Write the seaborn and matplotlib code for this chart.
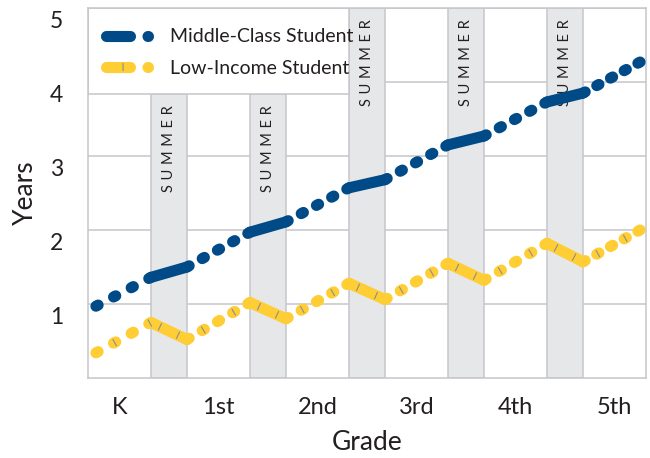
import numpy as np
import pandas as pd
import matplotlib
matplotlib.use("Agg")
import matplotlib.pyplot as plt
import seaborn as sns
from matplotlib.lines import Line2D
from matplotlib.patches import Rectangle
from matplotlib.legend_handler import HandlerTuple
from matplotlib.transforms import ScaledTranslation

# ---------------- data ----------------
grades = ["K", "1st", "2nd", "3rd", "4th", "5th"]
series_names = ["Middle-Class Student", "Low-Income Student"]
middle_start = [0.97, 1.50, 2.11, 2.68, 3.27, 3.85]   # value at start of school year
middle_end = [1.36, 1.97, 2.57, 3.15, 3.73, 4.27]     # value at end of school year
low_start = [0.34, 0.52, 0.80, 1.06, 1.32, 1.57]
low_end = [0.75, 1.02, 1.28, 1.55, 1.82, 2.00]
y_ticks = [1, 2, 3, 4, 5]
summer_label = " \u200a".join("SUMMER")
x_label = "Grade"
y_label = "Years"

# ---------------- style ----------------
sns.set_theme(style="white")
plt.rcParams["font.family"] = ["Lato", "DejaVu Sans"]
plt.rcParams["lines.scale_dashes"] = False
TXT = "#231f20"
BLUE = "#004b87"
YELLOW = "#ffcd34"
SLASH = "#8a8d96"
BAND = "#e6e7e9"
GRID = "#c6c6cb"
LW = 8.0
DPI = 100
PT = 72.0 / DPI  # points per pixel

SCHOOL = 0.636          # school-year share of a grade cycle
X_FIRST = 0.08
X_LAST_INSET = 0.06
LEGEND_BOTTOM = 3.84
LEGEND_RIGHT = 2 + SCHOOL

rows = []
for name, starts, ends in [(series_names[0], middle_start, middle_end),
                           (series_names[1], low_start, low_end)]:
    for i in range(len(grades)):
        xs = i + (X_FIRST if i == 0 else 0.0)
        xe = i + SCHOOL - (X_LAST_INSET if i == len(grades) - 1 else 0.0)
        rows.append(dict(student=name, phase="school", seg=i, x=xs, y=starts[i]))
        rows.append(dict(student=name, phase="school", seg=i, x=xe, y=ends[i]))
        if i < len(grades) - 1:
            rows.append(dict(student=name, phase="summer", seg=i, x=i + SCHOOL, y=ends[i]))
            rows.append(dict(student=name, phase="summer", seg=i, x=i + 1, y=starts[i + 1]))
df = pd.DataFrame(rows)

fig = plt.figure(figsize=(6.5, 4.58), dpi=DPI)
ax = fig.add_axes([88 / 650, 80 / 458, 558 / 650, 370 / 458])
ax.set_xlim(0, len(grades) - 1 + SCHOOL)
ax.set_ylim(0, 5)

# grid / spines
ax.set_axisbelow(True)
ax.set_yticks(y_ticks)
ax.grid(axis="y", color=GRID, lw=1.1)
ax.grid(axis="x", visible=False)
for s in ax.spines.values():
    s.set_color(GRID)
    s.set_linewidth(1.1)

# summer bands
for i in range(len(grades) - 1):
    x0 = i + SCHOOL
    w = 1 - SCHOOL
    top = LEGEND_BOTTOM if x0 < LEGEND_RIGHT - 1e-6 else 5
    ax.add_patch(Rectangle((x0, 0), w, top, facecolor=BAND, edgecolor=GRID,
                           lw=1.1, zorder=1))
    ax.annotate(summer_label, xy=(x0 + w / 2, top), xytext=(0, -8),
                textcoords="offset points", rotation=90, ha="center", va="top",
                fontsize=10.5, color=TXT, zorder=2)

# legend box
ax.add_patch(Rectangle((0, LEGEND_BOTTOM), LEGEND_RIGHT, 5 - LEGEND_BOTTOM,
                       facecolor="white", edgecolor=GRID, lw=1.1, zorder=1.5))

# lines
colors = {series_names[0]: BLUE, series_names[1]: YELLOW}
school_lines, summer_lines = {}, {}
for name in series_names:
    sub = df[(df.student == name) & (df.phase == "school")]
    n0 = len(ax.lines)
    sns.lineplot(data=sub, x="x", y="y", units="seg", estimator=None, sort=False,
                 color=colors[name], lw=LW, ax=ax, linestyle=(0, (1, 10)),
                 dash_capstyle="round", solid_capstyle="round", zorder=3)
    school_lines[name] = ax.lines[n0:]
    sub = df[(df.student == name) & (df.phase == "summer")]
    n0 = len(ax.lines)
    sns.lineplot(data=sub, x="x", y="y", units="seg", estimator=None, sort=False,
                 color=colors[name], lw=LW, ax=ax, solid_capstyle="round", zorder=3.5)
    summer_lines[name] = ax.lines[n0:]

# slashes on the low-income line
low = series_names[1]
sub = df[(df.student == low) & (df.phase == "school")]
n0 = len(ax.lines)
sns.lineplot(data=sub, x="x", y="y", units="seg", estimator=None, sort=False,
             color=SLASH, lw=LW * 0.72, ax=ax, linestyle=(0, (1, 10)),
             dash_capstyle="butt", zorder=4)
slash_school = ax.lines[n0:]
sub = df[(df.student == low) & (df.phase == "summer")]
n0 = len(ax.lines)
sns.lineplot(data=sub, x="x", y="y", units="seg", estimator=None, sort=False,
             color=SLASH, lw=LW * 0.72, ax=ax, linestyle=(0, (1, 10)),
             dash_capstyle="butt", zorder=4)
slash_summer = ax.lines[n0:]


def disp_len(line):
    xy = ax.transData.transform(line.get_xydata())
    return np.hypot(*np.diff(xy, axis=0).T).sum()

DOT_ON = 2.5     # px
TARGET = 17.5    # px
TICK_ON = 1.1    # px
periods = {}
for name in series_names:
    for k, ln in enumerate(school_lines[name]):
        L = disp_len(ln)
        N = max(1, int(round((L - DOT_ON) / TARGET)))
        P = (L - DOT_ON) / N
        periods[(name, k)] = P
        ln.set_linestyle((0, (DOT_ON * PT, (P - DOT_ON) * PT)))
for k, ln in enumerate(slash_school):
    P = periods[(low, k)]
    d0 = P + DOT_ON / 2 - TICK_ON / 2
    ln.set_linestyle(((2 * P - d0) * PT, (TICK_ON * PT, (2 * P - TICK_ON) * PT)))
for ln in slash_summer:
    L = disp_len(ln)
    P = L / 2
    ln.set_linestyle(((L / 4 + TICK_ON / 2) * PT, (TICK_ON * PT, (P - TICK_ON) * PT)))

# axes text
ax.set_xticks([i + SCHOOL / 2 for i in range(len(grades))])
ax.set_xticklabels(grades)
ax.tick_params(axis="x", length=0, pad=14, labelsize=17, labelcolor=TXT)
ax.tick_params(axis="y", length=0, pad=18, labelsize=16.5, labelcolor=TXT)
ax.set_yticklabels([str(v) for v in y_ticks])
for t in ax.yaxis.get_major_ticks():
    t.label1.set_transform(t.label1.get_transform()
                           + ScaledTranslation(0, -12 / DPI, fig.dpi_scale_trans))
ax.set_xlabel(x_label, fontsize=19, color=TXT)
ax.set_ylabel(y_label, fontsize=19, color=TXT)
ax.xaxis.set_label_coords(0.5, -0.141)
ax.yaxis.set_label_coords(-0.089, 0.5)

# legend
h_mid = Line2D([], [], color=BLUE, lw=LW, dash_capstyle="round",
               linestyle=(0, (24 * PT, 17.5 * PT, 1.5 * PT, 100)))
h_low = Line2D([], [], color=YELLOW, lw=LW, dash_capstyle="round",
               linestyle=(0, (24 * PT, 17.5 * PT, 1.5 * PT, 100)))
seq = [TICK_ON * PT, 25.5 * PT, TICK_ON * PT, 100]
h_slash = Line2D([], [], color=SLASH, lw=LW * 0.72, dash_capstyle="butt",
                 linestyle=(sum(seq) - 16.5 * PT, seq))
ax.legend(handles=[h_mid, (h_low, h_slash)], labels=series_names,
          loc="upper left", bbox_to_anchor=(0.0314, 0.945), frameon=False,
          borderpad=0, borderaxespad=0, handlelength=2.2, handletextpad=1.1,
          labelspacing=0.76, fontsize=14, labelcolor=TXT,
          handler_map={tuple: HandlerTuple(ndivide=1, pad=0)})

fig.savefig("out.png", dpi=DPI, facecolor="white")
